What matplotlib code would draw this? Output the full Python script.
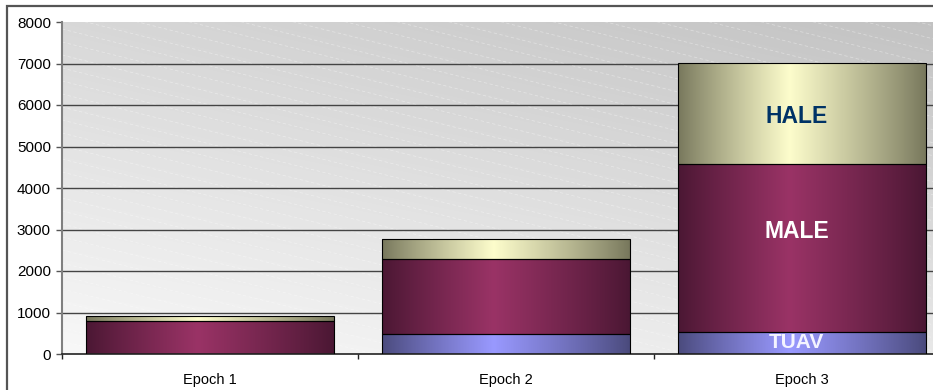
import numpy as np
import matplotlib
matplotlib.use("Agg")
import matplotlib.pyplot as plt
from matplotlib.patches import Rectangle
from matplotlib.colors import to_rgb

plt.rcParams['font.family'] = ['Liberation Sans', 'DejaVu Sans']

# Fleet size per epoch, stacked by UAV class
categories = ['Epoch 1', 'Epoch 2', 'Epoch 3']
tuav = [0, 470, 540]
male = [790, 1810, 4040]
hale = [120, 480, 2420]
y_ticks = [0, 1000, 2000, 3000, 4000, 5000, 6000, 7000, 8000]

W, H = 933, 390
fig = plt.figure(figsize=(W / 100, H / 100), dpi=100)
fig.patch.set_facecolor('white')

# plot area runs off the right edge of the canvas
ax_l, ax_r, ax_t, ax_b = 62, 950, 22, 354
ax = fig.add_axes([ax_l / W, 1 - ax_b / H, (ax_r - ax_l) / W, (ax_b - ax_t) / H])
ax.set_facecolor('none')

# diagonal grey gradient backdrop
nu, nv = 200, 100
u = np.linspace(0, 1, nu)[None, :]
v = np.linspace(1, 0, nv)[:, None]
val = (248 - 16 * u - 32 * v - 6 * u * v) / 255.0
bg = np.dstack([val, val, val])
ax.imshow(bg, extent=[0, 1, 0, 1], transform=ax.transAxes, aspect='auto',
          zorder=0, interpolation='bilinear')

# faint dashed diagonal texture
aw, ah = ax_r - ax_l, ax_b - ax_t
slope = -0.25 * aw / ah
for y0 in np.arange(0, 1 + abs(slope) + 0.05, 13 / ah):
    ax.plot([0, 1], [y0, y0 + slope], transform=ax.transAxes, color='white',
            lw=0.6, alpha=0.35, ls=(0, (4, 3)), zorder=0.5, clip_on=True)

x = np.arange(len(categories))
bar_w = 0.835


def gradient_bars(bottoms, heights, edge, center, peak=0.45):
    bars = ax.bar(x, heights, bar_w, bottom=bottoms, edgecolor='black',
                  linewidth=0.8, facecolor='none', zorder=3)
    e = np.array(to_rgb(edge))
    c = np.array(to_rgb(center))
    t = np.linspace(0, 1, 256)
    p = np.where(t < peak, t / peak, (1 - t) / (1 - peak))
    p = p ** 0.9
    cols = e + (c - e) * p[:, None]
    img = cols[None, :, :]
    for b in bars:
        if b.get_height() <= 0:
            b.set_visible(False)
            continue
        bx, by, bw, bh = b.get_x(), b.get_y(), b.get_width(), b.get_height()
        im = ax.imshow(img, extent=[bx, bx + bw, by, by + bh], aspect='auto',
                       zorder=2.5, interpolation='bilinear')
        im.set_clip_path(b)
    return bars


tuav_a = np.array(tuav)
male_a = np.array(male)
hale_a = np.array(hale)
gradient_bars(np.zeros(3), tuav_a, '#4a4a7c', '#9999ff')
gradient_bars(tuav_a, male_a, '#4a1733', '#9a3366')
gradient_bars(tuav_a + male_a, hale_a, '#77775c', '#fdfdcc')

# horizontal gridlines
for yv in y_ticks[1:-1]:
    ax.axhline(yv, color='#444444', lw=1.0, zorder=1)

ax.set_xlim(-0.5, 2.5)
ax.set_ylim(0, 8000)
ax.set_yticks(y_ticks)
ax.set_yticklabels([str(t) for t in y_ticks], fontsize=11)
ax.set_xticks(x)
ax.set_xticklabels(categories, fontsize=10.5)
ax.set_xticks([-0.5, 0.5, 1.5, 2.5], minor=True)
ax.tick_params(axis='x', which='major', length=0, pad=14)
ax.tick_params(axis='x', which='minor', length=3.5, width=1, color='#222222')
ax.tick_params(axis='y', length=4, width=1, color='#555555', pad=4)

for s in ['top', 'right']:
    ax.spines[s].set_visible(False)
ax.spines['left'].set_color('#808080')
ax.spines['left'].set_linewidth(1.5)
ax.spines['bottom'].set_color('#222222')
ax.spines['bottom'].set_linewidth(1.2)

# class labels on the Epoch 3 stack
lx = 2 - 0.018
ax.text(lx, 5720, 'HALE', color='#003366', fontsize=16.5, fontweight='bold',
        ha='center', va='center', zorder=5)
ax.text(lx, 2960, 'MALE', color='white', fontsize=16.5, fontweight='bold',
        ha='center', va='center', zorder=5)
ax.text(lx, 275, 'TUAV', color='#f4f4ff', fontsize=15, fontweight='bold',
        ha='center', va='center', zorder=5)

# chart frame
fig.add_artist(Rectangle((7 / W, -0.2), 1.2, (H - 5.5) / H + 0.2,
                         transform=fig.transFigure, fill=False,
                         edgecolor='#555555', lw=1.6))

fig.savefig('out.png', dpi=100, facecolor='white')
